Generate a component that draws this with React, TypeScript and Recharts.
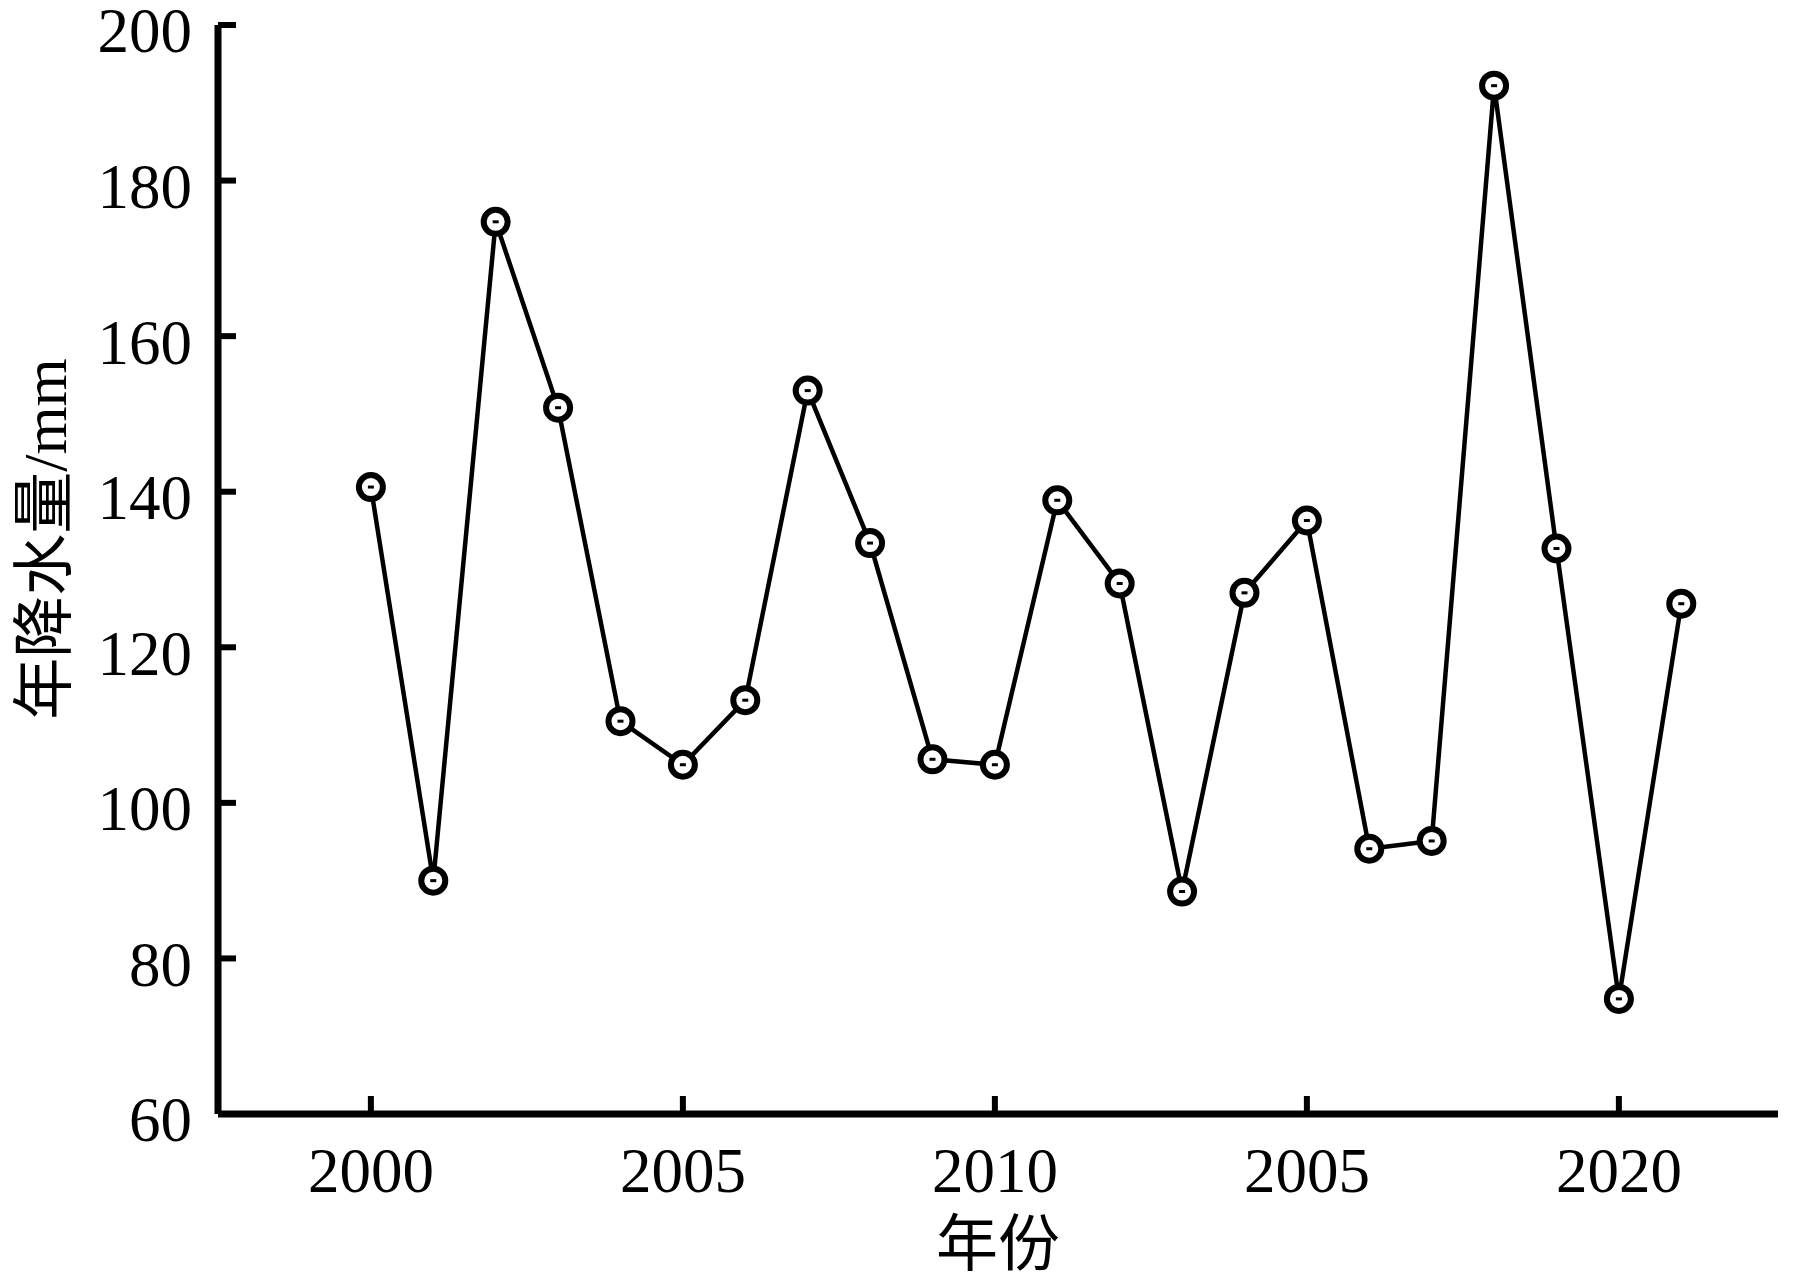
import React from "react";
import { LineChart, Line, XAxis, YAxis, Label } from "recharts";

// years on the x axis
const years: number[] = [
  2000, 2001, 2002, 2003, 2004, 2005, 2006, 2007, 2008, 2009, 2010, 2011,
  2012, 2013, 2014, 2015, 2016, 2017, 2018, 2019, 2020, 2021,
];

// annual precipitation (mm)
const rainfall: number[] = [
  140.6, 90.0, 174.7, 150.8, 110.5, 104.9, 113.2, 153.0, 133.4, 105.6, 104.9,
  138.9, 128.2, 88.6, 127.0, 136.3, 94.1, 95.1, 192.2, 132.7, 74.8, 125.6,
];

const xTicks: number[] = [2000, 2005, 2010, 2015, 2020];
// labels as printed in the original (the fourth one really says 2005)
const xTickLabels: string[] = ["2000", "2005", "2010", "2005", "2020"];
const yTicks: number[] = [60, 80, 100, 120, 140, 160, 180, 200];

const data = years.map((year, i) => ({ year, value: rainfall[i] }));

const FONT = "'Liberation Serif', 'Times New Roman', 'Noto Sans CJK SC', serif";

// circle marker with a small dot in the middle
const RingDot = (props: any) => {
  const { cx, cy, index } = props;
  if (cx == null || cy == null) return null;
  return (
    <g key={`dot-${index}`}>
      <circle cx={cx} cy={cy} r={12} fill="#fff" stroke="#000" strokeWidth={6} />
      <rect x={cx - 3} y={cy - 1.5} width={6} height={3} fill="#000" />
    </g>
  );
};

const App: React.FC = () => {
  return (
    <div style={{ position: "relative", top: -28, width: 1785, height: 1298, background: "#fff" }}>
      <LineChart
        width={1785}
        height={1298}
        data={data}
        margin={{ top: 45, right: 15, left: 0, bottom: 0 }}
      >
        <XAxis
          dataKey="year"
          type="number"
          domain={[1997.55, 2022.55]}
          ticks={xTicks}
          tickFormatter={(v: number) => xTickLabels[xTicks.indexOf(v)] ?? String(v)}
          height={164}
          tickSize={-18}
          tickMargin={51}
          axisLine={{ stroke: "#000", strokeWidth: 7 }}
          tickLine={{ stroke: "#000", strokeWidth: 6 }}
          tick={{ fill: "#000", fontSize: 63, fontFamily: FONT }}
          allowDataOverflow
        >
          <Label
            content={(p: any) => {
              const vb = p.viewBox;
              return (
                <text
                  x={vb.x + vb.width / 2}
                  y={vb.y + 152}
                  textAnchor="middle"
                  fontSize={62}
                  fontFamily={FONT}
                  fill="#000"
                >
                  年份
                </text>
              );
            }}
          />
        </XAxis>
        <YAxis
          type="number"
          domain={[60, 200]}
          ticks={yTicks}
          width={210}
          tickSize={-18}
          tickMargin={44}
          axisLine={{ stroke: "#000", strokeWidth: 7 }}
          tickLine={{ stroke: "#000", strokeWidth: 6 }}
          tick={{ fill: "#000", fontSize: 63, fontFamily: FONT, dy: 5 }}
          allowDataOverflow
        >
          <Label
            content={(p: any) => {
              const vb = p.viewBox;
              const x = vb.x + 37;
              const y = 559;
              return (
                <text
                  x={x}
                  y={y}
                  transform={`rotate(-90, ${x}, ${y})`}
                  textAnchor="middle"
                  dominantBaseline="central"
                  fontSize={62}
                  fontFamily={FONT}
                  fill="#000"
                >
                  年降水量/mm
                </text>
              );
            }}
          />
        </YAxis>
        <Line
          type="linear"
          dataKey="value"
          stroke="#000"
          strokeWidth={4.5}
          dot={<RingDot />}
          activeDot={false}
          isAnimationActive={false}
        />
      </LineChart>
    </div>
  );
};

export default App;
